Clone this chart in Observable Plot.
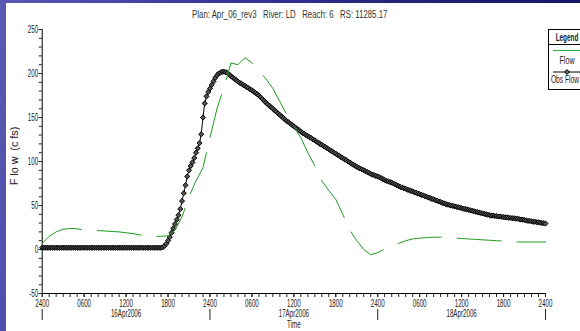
<!DOCTYPE html>
<html><head><meta charset="utf-8">
<script src="https://cdn.jsdelivr.net/npm/d3@7"></script>
<script src="https://cdn.jsdelivr.net/npm/@observablehq/plot@0.6"></script>
<style>
body{margin:0;}
#wrap{position:relative;width:580px;height:331px;overflow:hidden;background:linear-gradient(100deg,#5a5ab4 0%,#3a3a9c 30%,#1e1e74 70%,#14145e 100%);}
#inner{position:absolute;left:6px;top:3px;right:0;bottom:0;background:#fff;}
#chart{position:absolute;left:0;top:0;}
.f{font-family:"Liberation Sans",Arial,sans-serif;}
.fit{display:inline-block;white-space:pre;transform-origin:center center;}
#title{position:absolute;top:9px;left:0;width:580px;text-align:center;font-size:10px;line-height:12px;color:#333;}
#ylab{position:absolute;left:15px;top:156px;transform:translate(-50%,-50%) rotate(-90deg);font-size:10px;line-height:10px;white-space:pre;color:#222;}
#legend{position:absolute;left:548px;top:29px;width:38px;height:59px;border:1px solid #000;background:#fff;font-size:10px;color:#222;}
#legend .t{position:absolute;left:18px;width:0;overflow:visible;white-space:nowrap;line-height:10px;}
</style></head>
<body>
<div id="wrap">
  <div id="inner"></div>
  <div id="chart"></div>
  <div id="title" class="f"><span class="fit" data-w="195">Plan: Apr_06_rev3   River: LD   Reach: 6   RS: 11285.17</span></div>
  <div id="ylab" class="f"><span class="fit" data-w="58">F lo w  (c fs)</span></div>
  <div id="legend" class="f">
    <div class="t" style="top:3px;font-weight:bold;"><span class="fit c" data-w="23">Legend</span></div>
    <div style="position:absolute;top:14px;left:0;width:38px;border-top:1px solid #000;"></div>
    <div style="position:absolute;top:20px;left:4px;width:34px;border-top:1px solid #3aa83a;"></div>
    <div class="t" style="top:26px;"><span class="fit c" data-w="15">Flow</span></div>
    <svg style="position:absolute;left:0;top:38px;" width="38" height="8"><line x1="4" y1="4" x2="38" y2="4" stroke="#000"/><path d="M18,1.5L20.5,4L18,6.5L15.5,4Z" fill="#666" stroke="#000"/></svg>
    <div class="t" style="top:45px;left:15.5px;"><span class="fit c" data-w="28">Obs Flow</span></div>
  </div>
</div>
<script>
// Observed flow (cfs), every 15 minutes from 16Apr2006 0000 to 19Apr2006 0000
const obsFlow = [
 2,2,2,2,2,2,2,2,2,2,2,2,
 2,2,2,2,2,2,2,2,2,2,2,2,
 2,2,2,2,2,2,2,2,2,2,2,2,
 2,2,2,2,2,2,2,2,2,2,2,2,
 2,2,2,2,2,2,2,2,2,2,2,2,
 2,2,2,2,2,2,2,2,2,
 2.5,4,6.5,10,14,19,24,29,34,39,46,55,64,73,83,90,95,99,104,110,115,121,131,150,166,174,179,
 183,187,191,195,198,200,201,202,202,201.5,200.5,199,197,195.5,194,192.5,191,189.5,188.5,187,
 186,184.5,183.5,182,181,179.5,178,176.5,175,173,171,169,167,165,163.5,161.5,160,158,156.5,154.5,
 153,151,149.5,147.5,146,144.5,143,141.5,140,138.5,137,135.5,134,132.5,131.5,130,129,127.5,126.5,125,
 124,122.5,121.5,120,119,117.5,116.5,115,114,112.5,111.5,110,109,107.5,106.5,105,104,102.5,101.5,100,
 99,97.5,96.5,95,94,93,92,91,90,89,88,87,86,85,84.5,83.5,83,82,81,80,
 79,78,77.5,76.5,76,75,74,73,72,71,70.5,69.5,69,68,67.5,66.5,66,65,64.5,63.5,
 63,62,61.5,60.5,60,59,58.5,57.5,57,56,55.5,54.5,54,53,52.5,51.5,51,50.5,50,49.5,
 49,48.5,48,47.5,47,46.5,46,45.5,45,44.5,44,43.5,43,42.5,42,41.5,41,40.5,40,39.5,
 39,38.5,38.5,38,38,37.5,37.5,37,37,36.5,36.5,36,36,35.5,35.5,35,35,34.5,34,34,
 33.5,33,32.5,32.5,32,31.5,31.5,31,31,30.5,30,30,29.5
];
// Computed flow (cfs), hourly from 16Apr2006 0000 to 19Apr2006 0000
const flow = [
 7,15,20,23,24,23.5,22,22,21.5,21,20.5,20,19,18,16.5,15.5,15,15,15.5,22,37,60,78,93,
 127,160,184,212,210,218,212,203,194,183,168,153,140,127,110,95,78,67,57,40,22,10,0,-6,
 -3.5,0.5,4,7,10,12,13,13.5,14,14,13.5,13,12.5,12,11.5,11,10.5,10,9.5,9,8.5,8.5,8.5,8.5,8.5
];
const yTicks = [-50,0,50,100,150,200,250];
const xLabelHours = [0,6,12,18,24,30,36,42,48,54,60,66,72];
const dayHours = [0,24,48,72];
const dayLabels = [{h:12,label:"16Apr2006"},{h:36,label:"17Apr2006"},{h:60,label:"18Apr2006"}];

const obsData = obsFlow.map((v,i)=>({t:i/4, v}));
const flowData = flow.map((v,i)=>({t:i, v}));
const fmt = h => { const r = h % 24; return r === 0 ? "2400" : String(r).padStart(2,"0") + "00"; };
const font = '"Liberation Sans",Arial,sans-serif';

const chart = Plot.plot({
  width: 580, height: 331,
  marginLeft: 41.7, marginRight: 35, marginTop: 29, marginBottom: 38,
  style: {background: "transparent", fontFamily: font, fontSize: "10px", color: "#222", overflow: "visible"},
  x: {domain: [0, 72]},
  y: {domain: [-50, 250]},
  marks: [
    Plot.axisY({ticks: d3.range(-50, 251, 10), tickSize: 3, tickFormat: () => "", label: null}),
    Plot.axisY({ticks: yTicks, tickSize: 3, tickPadding: 1, tickFormat: d => String(d), label: null}),
    Plot.axisX({ticks: d3.range(0, 73, 1), tickSize: 4, tickFormat: () => "", label: null}),
    Plot.axisX({ticks: xLabelHours, tickSize: 4, tickPadding: 2, tickFormat: fmt, label: null}),
    Plot.axisX({ticks: dayHours, tickSize: 11, tickFormat: () => "", label: null, dy: 16}),
    Plot.ruleX([0], {stroke: "#000"}),
    Plot.ruleY([-50], {stroke: "#000"}),
    Plot.text(dayLabels, {x: "h", text: "label", frameAnchor: "bottom", dy: 20, lineAnchor: "middle", fill: "#222"}),
    Plot.text(["Time"], {x: 36, text: d => d, frameAnchor: "bottom", dy: 31, lineAnchor: "middle", fill: "#222"}),
    Plot.line(obsData, {x: "t", y: "v", stroke: "#000", strokeWidth: 1}),
    Plot.dot(obsData, {x: "t", y: "v", symbol: "diamond2", r: 2.3, stroke: "#000", strokeWidth: 1, fill: "#555"}),
    Plot.line(flowData, {x: "t", y: "v", stroke: "#1f9a1f", strokeWidth: 1, strokeDasharray: "44,16"})
  ]
});
document.getElementById("chart").appendChild(chart);

// condense SVG text to match the narrow font of the original
chart.querySelectorAll("text").forEach(t => {
  const len = t.getComputedTextLength();
  if (len > 0) {
    t.setAttribute("textLength", (len * 0.62).toFixed(2));
    t.setAttribute("lengthAdjust", "spacingAndGlyphs");
  }
});
// condense HTML texts to their widths in the original
document.querySelectorAll(".fit").forEach(s => {
  const w = s.offsetWidth;
  const k = (+s.dataset.w / w).toFixed(3);
  if (w > 0) s.style.transform = s.classList.contains("c") ? `translateX(-50%) scaleX(${k})` : `scaleX(${k})`;
});
</script>
</body></html>
